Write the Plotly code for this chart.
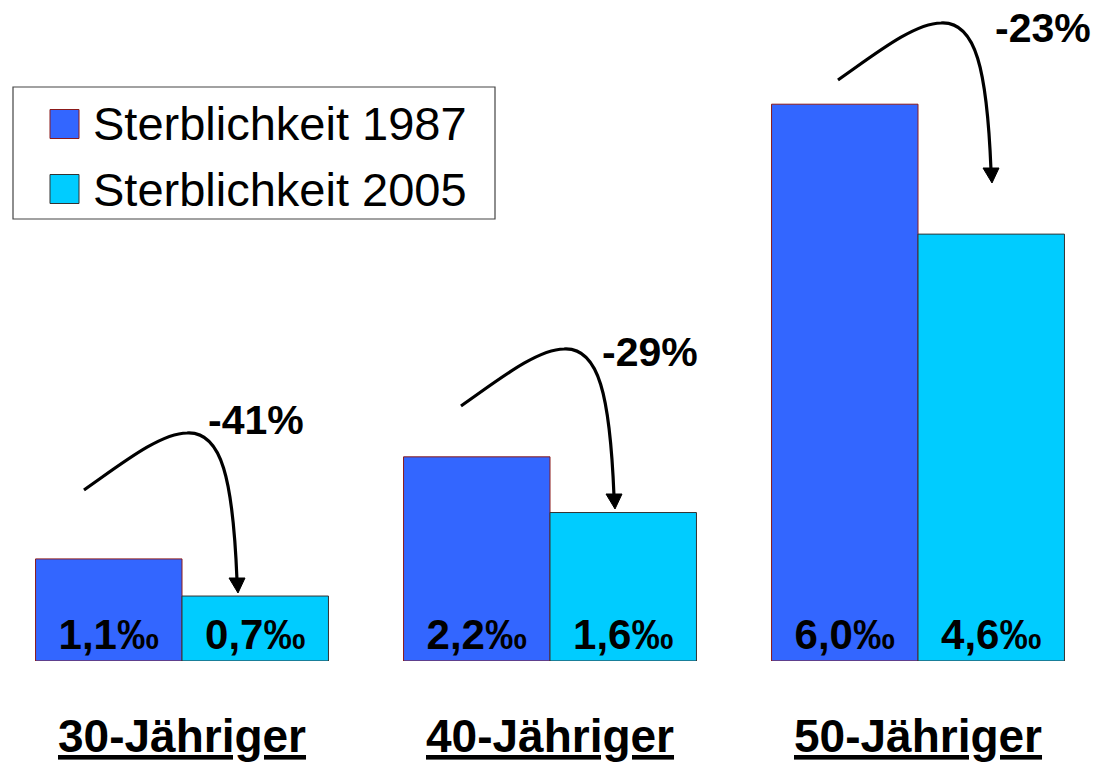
import plotly.graph_objects as go

# ---------------- data ----------------
categories = ["30-Jähriger", "40-Jähriger", "50-Jähriger"]
series_names = ["Sterblichkeit 1987", "Sterblichkeit 2005"]
values_1987 = [1.1, 2.2, 6.0]
values_2005 = [0.7, 1.6, 4.6]
change_labels = ["-41%", "-29%", "-23%"]

# ---------------- styling / layout constants ----------------
W, H = 1097, 764
FONT = "Liberation Sans, Arial, sans-serif"
COL_1987 = "#3366FF"
COL_2005 = "#00CCFF"
EDGE_1987 = "#8B1A1A"
EDGE_2005 = "#333333"

PLOT_BOTTOM_PX = 661          # pixel row of the baseline
PX_PER_UNIT_Y = 92.8
CAT0_PX, PX_PER_CAT = 182, 368


def px_x(px):
    return (px - CAT0_PX) / PX_PER_CAT


def px_y(py):
    return (PLOT_BOTTOM_PX - py) / PX_PER_UNIT_Y


def paper_x(px):
    return px / W


def paper_y(py):
    return (PLOT_BOTTOM_PX - py) / PLOT_BOTTOM_PX


xpos = list(range(len(categories)))

fig = go.Figure()
for name, vals, col, edge in [
    (series_names[0], values_1987, COL_1987, EDGE_1987),
    (series_names[1], values_2005, COL_2005, EDGE_2005),
]:
    fig.add_trace(go.Bar(
        x=xpos, y=vals, name=name, showlegend=False,
        marker=dict(color=col, line=dict(color=edge, width=1)),
        texttemplate="%{y:.1f}‰", textposition="inside",
        insidetextanchor="start",
        textfont=dict(family=FONT, size=42, color="black", weight="bold"),
        constraintext="none",
    ))

shapes = []
annotations = []

# curved arrows (same template translated per group, pixel offsets)
ARROW_STARTS = [(84, 490), (461, 406), (838, 80)]
for (sx, sy) in ARROW_STARTS:
    def P(dx, dy):
        return f"{px_x(sx + dx):.5f},{px_y(sy + dy):.5f}"
    path = (f"M {P(0,0)} C {P(36,-25)} {P(76,-57)} {P(103,-57)} "
            f"C {P(138,-59)} {P(149,-10)} {P(153,90)}")
    shapes.append(dict(type="path", xref="x", yref="y", path=path,
                       line=dict(color="black", width=3.2)))
    head = f"M {P(145,88)} L {P(161,88)} L {P(154,103)} Z"
    shapes.append(dict(type="path", xref="x", yref="y", path=head,
                       fillcolor="black", line=dict(color="black", width=1)))

# change labels
LABEL_POS = [(256, 420), (650, 352), (1043, 28)]
for lab, (lx, ly) in zip(change_labels, LABEL_POS):
    annotations.append(dict(x=px_x(lx), y=px_y(ly), xref="x", yref="y",
                            text=lab, showarrow=False,
                            xanchor="center", yanchor="middle",
                            font=dict(family=FONT, size=41, color="black",
                                      weight="bold")))

# category labels (underlined)
for i, cat in enumerate(categories):
    annotations.append(dict(x=i, y=paper_y(736), xref="x", yref="paper",
                            text=cat, showarrow=False,
                            xanchor="center", yanchor="middle",
                            font=dict(family=FONT, size=46, color="black",
                                      weight="bold", lineposition="under")))

# legend box
shapes.append(dict(type="rect", xref="paper", yref="paper",
                   x0=paper_x(13), x1=paper_x(495),
                   y0=paper_y(219), y1=paper_y(87),
                   line=dict(color="#444444", width=1.2), fillcolor="white"))
for name, col, edge, cy in [
    (series_names[0], COL_1987, EDGE_1987, 124),
    (series_names[1], COL_2005, EDGE_2005, 189),
]:
    shapes.append(dict(type="rect", xref="paper", yref="paper",
                       x0=paper_x(50), x1=paper_x(79),
                       y0=paper_y(cy + 14.5), y1=paper_y(cy - 14.5),
                       line=dict(color=edge, width=1), fillcolor=col))
    annotations.append(dict(x=paper_x(91), y=paper_y(cy), xref="paper",
                            yref="paper", text=name, showarrow=False,
                            xanchor="left", yanchor="middle",
                            font=dict(family=FONT, size=47, color="black")))

fig.update_layout(
    width=W, height=H,
    margin=dict(l=0, r=0, t=0, b=H - PLOT_BOTTOM_PX, pad=0),
    paper_bgcolor="white", plot_bgcolor="white",
    barmode="group", bargap=0.204, bargroupgap=0,
    separators=",.",
    xaxis=dict(range=[px_x(0), px_x(W)], visible=False, fixedrange=True),
    yaxis=dict(range=[0, px_y(0)], visible=False, fixedrange=True),
    shapes=shapes, annotations=annotations,
    showlegend=False,
)

# remove the default 8px page margin so the figure fills the window exactly
fig.write_html(
    "out.html",
    config={"displayModeBar": False, "staticPlot": True},
    post_script="document.body.style.margin='0';"
                "document.body.style.overflow='hidden';",
)
